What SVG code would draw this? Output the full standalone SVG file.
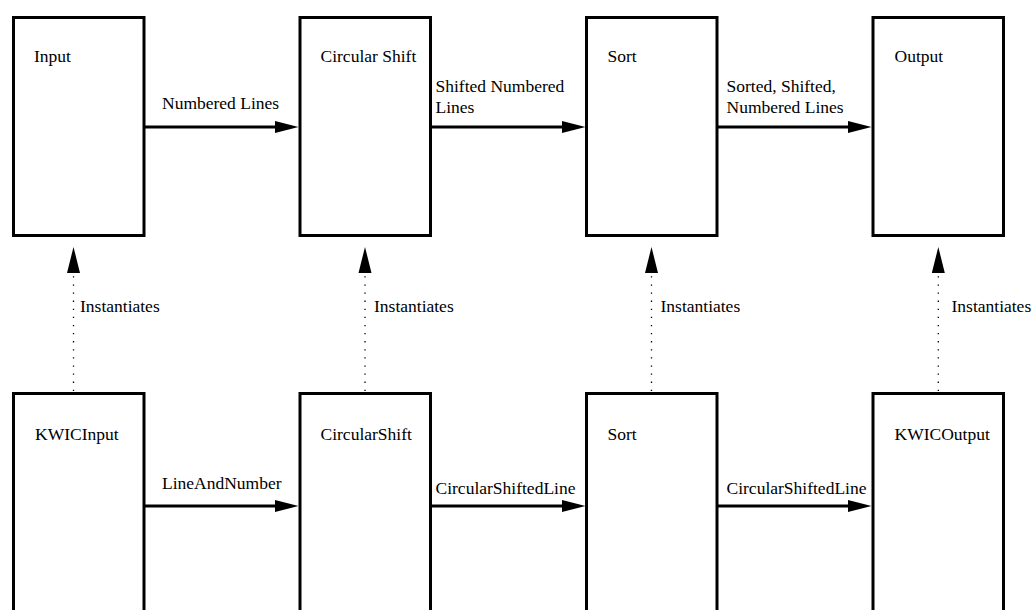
<svg xmlns="http://www.w3.org/2000/svg" width="1032" height="610" viewBox="0 0 1032 610">
<style>
.box{fill:#fff;stroke:#000;stroke-width:3}
.flow{stroke:#000;stroke-width:3;fill:none}
.inst{stroke:#000;stroke-width:1.3;fill:none;stroke-dasharray:1.3 6.8}
text{font-family:"Liberation Serif","Times New Roman",serif;font-size:17.5px;fill:#000}
</style>
<defs>
<marker id="ah" markerUnits="userSpaceOnUse" markerWidth="24" markerHeight="12" refX="0" refY="6" orient="auto" overflow="visible">
<path d="M0,0 L23.5,6 L0,12 Z" fill="#000"/>
</marker>
<marker id="ahi" markerUnits="userSpaceOnUse" markerWidth="26" markerHeight="14" refX="0" refY="6.5" orient="auto" overflow="visible">
<path d="M0,0 L26,6.5 L0,13 Z" fill="#000"/>
</marker>
</defs>
<rect width="1032" height="610" fill="#fff"/>
<g id="connectors">
<line class="flow" x1="145" y1="127" x2="275" y2="127" marker-end="url(#ah)"/>
<line class="flow" x1="431" y1="127" x2="562" y2="127" marker-end="url(#ah)"/>
<line class="flow" x1="718" y1="127" x2="848" y2="127" marker-end="url(#ah)"/>
<line class="flow" x1="145" y1="506" x2="275" y2="506" marker-end="url(#ah)"/>
<line class="flow" x1="431" y1="506" x2="562" y2="506" marker-end="url(#ah)"/>
<line class="flow" x1="718" y1="506" x2="848" y2="506" marker-end="url(#ah)"/>
<line class="inst" x1="73.5" y1="391" x2="73.5" y2="273" marker-end="url(#ahi)"/>
<line class="inst" x1="365" y1="391" x2="365" y2="273" marker-end="url(#ahi)"/>
<line class="inst" x1="651.5" y1="391" x2="651.5" y2="273" marker-end="url(#ahi)"/>
<line class="inst" x1="938.3" y1="391" x2="938.3" y2="273" marker-end="url(#ahi)"/>
<text x="162" y="109">Numbered Lines</text>
<text x="435.5" y="92">Shifted Numbered</text>
<text x="435.5" y="113">Lines</text>
<text x="726.5" y="92">Sorted, Shifted,</text>
<text x="726.5" y="113">Numbered Lines</text>
<text x="162" y="489">LineAndNumber</text>
<text x="435.5" y="493.5">CircularShiftedLine</text>
<text x="726.5" y="493.5">CircularShiftedLine</text>
<text x="80" y="311.5">Instantiates</text>
<text x="374" y="311.5">Instantiates</text>
<text x="660.5" y="311.5">Instantiates</text>
<text x="951.5" y="311.5">Instantiates</text>
</g>
<g id="input"><rect class="box" x="13.5" y="17.5" width="130.5" height="218"/><text x="34" y="61.5">Input</text></g>
<g id="circular-shift"><rect class="box" x="300" y="17.5" width="130.5" height="218"/><text x="320.5" y="61.5">Circular Shift</text></g>
<g id="sort"><rect class="box" x="586.5" y="17.5" width="130.5" height="218"/><text x="607.5" y="61.5">Sort</text></g>
<g id="output"><rect class="box" x="873" y="17.5" width="130.5" height="218"/><text x="894.5" y="61.5">Output</text></g>
<g id="kwicinput"><rect class="box" x="13.5" y="393.5" width="130.5" height="300"/><text x="35" y="440">KWICInput</text></g>
<g id="circularshift"><rect class="box" x="300" y="393.5" width="130.5" height="300"/><text x="320.5" y="440">CircularShift</text></g>
<g id="sort-impl"><rect class="box" x="586.5" y="393.5" width="130.5" height="300"/><text x="607.5" y="440">Sort</text></g>
<g id="kwicoutput"><rect class="box" x="873" y="393.5" width="130.5" height="300"/><text x="894.5" y="440">KWICOutput</text></g>
</svg>
